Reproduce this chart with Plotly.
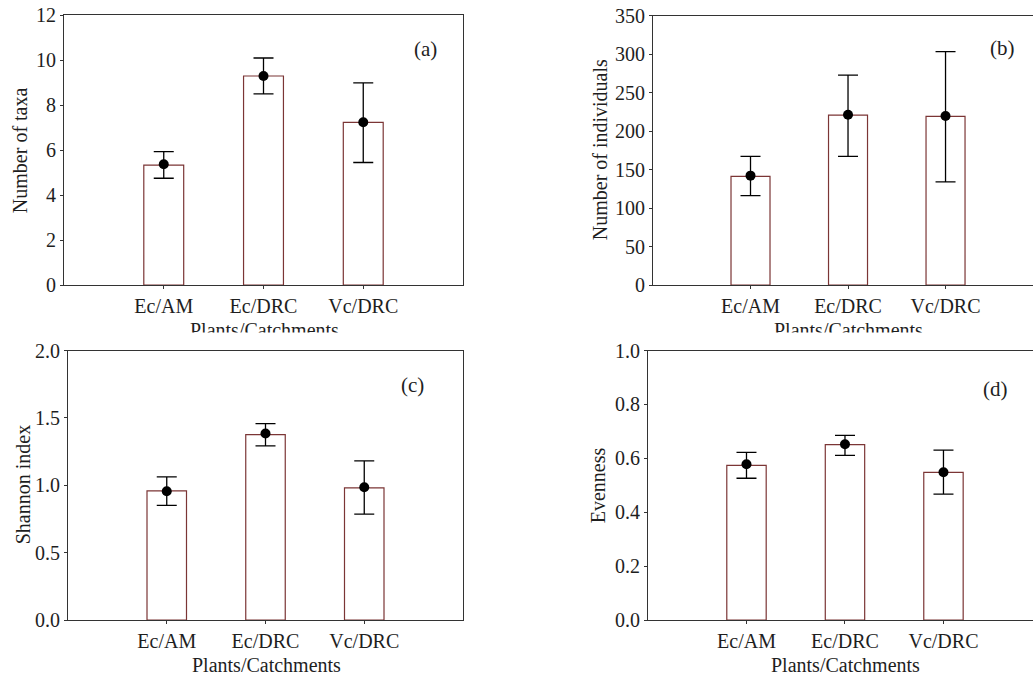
import plotly.graph_objects as go

W, H = 1033, 680

categories = ["Ec/AM", "Ec/DRC", "Vc/DRC"]

# (a) Number of taxa
taxa_bar = [5.33, 9.30, 7.24]
taxa_mean = [5.37, 9.30, 7.24]
taxa_err_up = [0.56, 0.80, 1.75]
taxa_err_down = [0.62, 0.80, 1.79]

# (b) Number of individuals
ind_bar = [141, 220.7, 219]
ind_mean = [142, 221, 219.4]
ind_err_up = [25, 51.6, 83.6]
ind_err_down = [26, 54, 85.4]

# (c) Shannon index
sh_bar = [0.958, 1.376, 0.980]
sh_mean = [0.955, 1.384, 0.985]
sh_err_up = [0.107, 0.074, 0.196]
sh_err_down = [0.104, 0.092, 0.200]

# (d) Evenness
ev_bar = [0.574, 0.651, 0.548]
ev_mean = [0.578, 0.652, 0.548]
ev_err_up = [0.044, 0.033, 0.082]
ev_err_down = [0.052, 0.041, 0.081]

y_titles = ["Number of taxa", "Number of individuals", "Shannon index", "Evenness"]
panel_labels = ["(a)", "(b)", "(c)", "(d)"]
x_title = "Plants/Catchments"

FONT = "Liberation Serif, Times New Roman, serif"
BAR_LINE = "#7b3535"
AX = "#333333"
TXT = "#1e1e1e"

panels = [
    dict(x0=64, x1=463, yt=15.3, yb=285, xend=3.0, yr=[0, 12], dt=2, fmt="d",
         bar=taxa_bar, mean=taxa_mean, up=taxa_err_up, dn=taxa_err_down,
         ytx=20, lab=(425, 49), xtx=264, xty=330),
    dict(x0=653, x1=1033, yt=15.5, yb=285, xend=2.897, yr=[0, 350], dt=50, fmt="d",
         bar=ind_bar, mean=ind_mean, up=ind_err_up, dn=ind_err_down,
         ytx=600, lab=(1002, 48), xtx=848, xty=330),
    dict(x0=68, x1=463, yt=350.5, yb=620, xend=3.0, yr=[0, 2.0], dt=0.5, fmt=".1f",
         bar=sh_bar, mean=sh_mean, up=sh_err_up, dn=sh_err_down,
         ytx=23, lab=(412, 385), xtx=266, xty=665),
    dict(x0=648, x1=1033, yt=350.5, yb=620, xend=2.909, yr=[0, 1.0], dt=0.2, fmt=".1f",
         bar=ev_bar, mean=ev_mean, up=ev_err_up, dn=ev_err_down,
         ytx=598, lab=(995, 389), xtx=845, xty=665),
]

fig = go.Figure()
annotations = []
layout = {}

for i, p in enumerate(panels):
    n = "" if i == 0 else str(i + 1)
    xa, ya = "x" + n, "y" + n
    fig.add_trace(go.Bar(
        x=categories, y=p["bar"], width=0.4,
        marker=dict(color="white", line=dict(color=BAR_LINE, width=1.2)),
        xaxis=xa, yaxis=ya, showlegend=False, hoverinfo="skip"))
    fig.add_trace(go.Scatter(
        x=categories, y=p["mean"], mode="markers",
        marker=dict(color="black", size=10),
        error_y=dict(type="data", symmetric=False, array=p["up"], arrayminus=p["dn"],
                     color="black", thickness=1.3, width=10),
        xaxis=xa, yaxis=ya, showlegend=False))

    dom_x = [p["x0"] / W, p["x1"] / W]
    dom_y = [(H - p["yb"]) / H, (H - p["yt"]) / H]
    layout["xaxis" + n] = dict(
        domain=dom_x, anchor=ya, range=[-1, p["xend"]], type="category",
        automargin=False,
        showline=True, linecolor=AX, linewidth=1, mirror=True,
        ticks="outside", ticklen=3, tickcolor=AX, showgrid=False, zeroline=False,
        tickfont=dict(family=FONT, size=20, color=TXT))
    layout["yaxis" + n] = dict(
        domain=dom_y, anchor=xa, range=p["yr"], dtick=p["dt"], tick0=0,
        tickformat=p["fmt"], automargin=False,
        showline=True, linecolor=AX, linewidth=1, mirror=True,
        ticks="outside", ticklen=3, tickcolor=AX, showgrid=False, zeroline=False,
        tickfont=dict(family=FONT, size=20, color=TXT))

    annotations.append(dict(
        text=y_titles[i], x=p["ytx"] / W, y=(H - (p["yt"] + p["yb"]) / 2) / H,
        xref="paper", yref="paper", textangle=-90, showarrow=False,
        xanchor="center", yanchor="middle",
        font=dict(family=FONT, size=20, color=TXT)))
    annotations.append(dict(
        text=panel_labels[i], x=p["lab"][0] / W, y=(H - p["lab"][1]) / H,
        xref="paper", yref="paper", showarrow=False,
        xanchor="center", yanchor="middle",
        font=dict(family=FONT, size=21, color=TXT)))
    annotations.append(dict(
        text=x_title, x=p["xtx"] / W, y=(H - p["xty"]) / H,
        xref="paper", yref="paper", showarrow=False,
        xanchor="center", yanchor="middle",
        font=dict(family=FONT, size=20, color=TXT)))

# the upper panels' axis titles are partly hidden behind the lower panels
for cx in (264, 848):
    annotations.append(dict(
        text=" ", x=cx / W, y=(H - 332) / H, xref="paper", yref="paper",
        showarrow=False, xanchor="center", yanchor="top",
        width=260, height=13, borderpad=0, bgcolor="white",
        font=dict(family=FONT, size=8)))

fig.update_layout(
    width=W, height=H,
    margin=dict(l=0, r=0, t=0, b=0, pad=0, autoexpand=False),
    paper_bgcolor="white", plot_bgcolor="white",
    annotations=annotations,
    **layout)

fig.write_html("out.html", config={"displayModeBar": False},
               post_script="document.body.style.margin='0px';")
